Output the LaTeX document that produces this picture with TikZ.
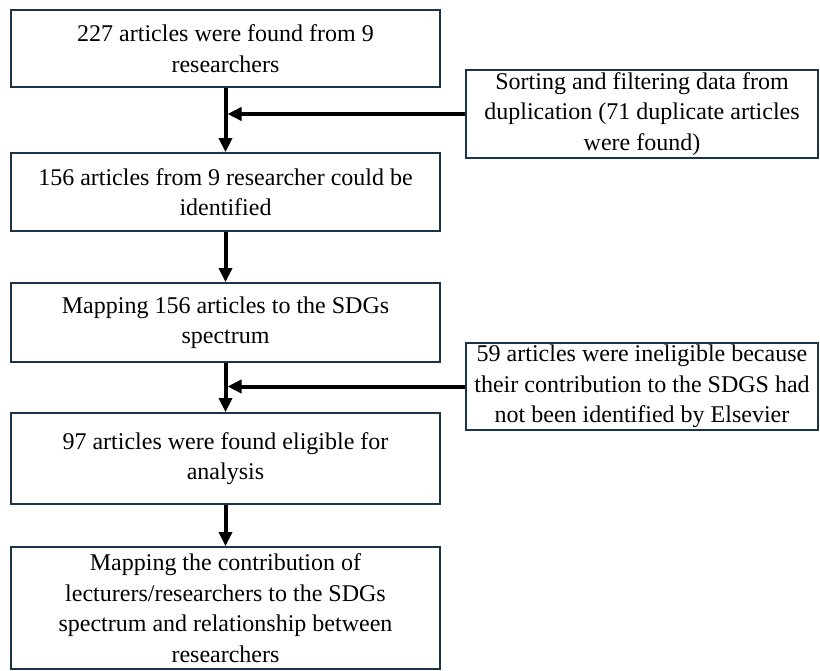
\documentclass[tikz,border=0pt]{standalone}
\usepackage{fontspec}
\setmainfont{Liberation Serif}
\usetikzlibrary{arrows.meta}
\definecolor{boxline}{RGB}{28,52,72}
\begin{document}
\begin{tikzpicture}[x=1pt,y=-1pt,
  box/.style={draw=boxline,line width=1.8pt,inner sep=0pt,align=center,
    font=\fontsize{24}{30.5}\selectfont},
  leftbox/.style={box,minimum width=429pt},
  rightbox/.style={box,minimum width=352pt},
  flow/.style={line width=4pt,-{Triangle[width=13pt,length=14pt]}}]
\useasboundingbox[fill=white] (0,0) rectangle (820,671);
\node[leftbox,minimum height=77pt] (b1) at (225.5,48.5)
  {227 articles were found from 9\\researchers};
\node[rightbox,minimum height=88pt] (b2) at (642,114)
  {Sorting and filtering data from\\duplication (71 duplicate articles\\were found)};
\node[leftbox,minimum height=78pt] (b3) at (225.5,192)
  {156 articles from 9 researcher could be\\identified};
\node[leftbox,minimum height=79pt] (b4) at (225.5,322.5)
  {Mapping 156 articles to the SDGs\\spectrum};
\node[rightbox,minimum height=87pt] (b5) at (642,386.5)
  {59 articles were ineligible because\\their contribution to the SDGS had\\not been identified by Elsevier};
\node[leftbox,minimum height=91pt] (b6) at (225.5,458.5)
  {97 articles were found eligible for\\analysis};
\node[leftbox,minimum height=122pt] (b7) at (225.5,608)
  {Mapping the contribution of\\lecturers/researchers to the SDGs\\spectrum and relationship between\\researchers};
\coordinate (j1) at (227.5,114);
\coordinate (j2) at (227.5,386.5);
\draw[flow] (b1.south) -- (b3.north);
\draw[flow] (b3.south) -- (b4.north);
\draw[flow] (b4.south) -- (b6.north);
\draw[flow] (b6.south) -- (b7.north);
\draw[flow] (b2.west) -- (j1);
\draw[flow] (b5.west) -- (j2);
\end{tikzpicture}
\end{document}
